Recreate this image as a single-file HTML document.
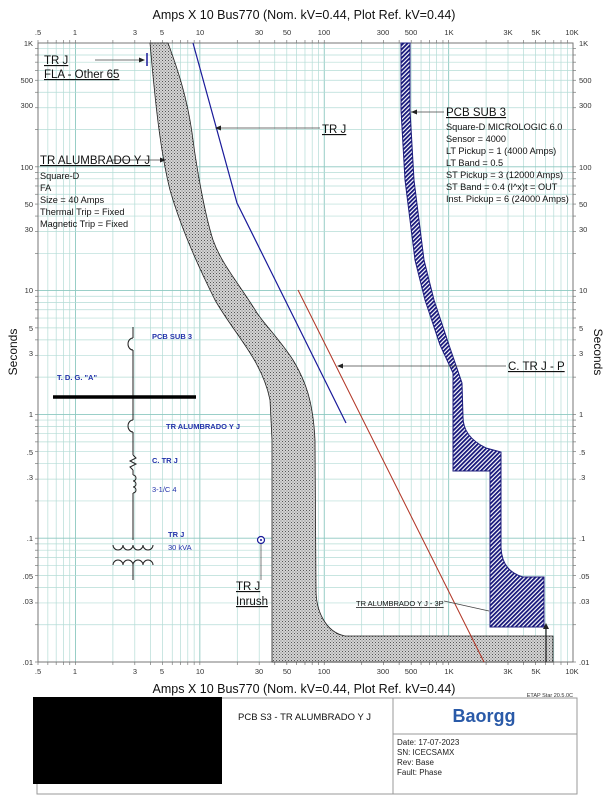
<!DOCTYPE html>
<html><head><meta charset="utf-8"><style>
html,body{margin:0;padding:0;background:#fff;}
svg{display:block;font-family:"Liberation Sans",Arial,sans-serif;}
</style></head><body>
<svg id="s" width="609" height="800" viewBox="0 0 609 800" xmlns="http://www.w3.org/2000/svg">
<defs>
<pattern id="dots" width="3" height="3" patternUnits="userSpaceOnUse">
<rect width="3" height="3" fill="#d4d4d4"/><rect x="0" y="0" width="1" height="1" fill="#555"/><rect x="1.5" y="1.5" width="1" height="1" fill="#777"/>
</pattern>
<pattern id="hatch" width="3" height="3" patternUnits="userSpaceOnUse" patternTransform="rotate(45)">
<rect width="3" height="3" fill="#fff"/><rect width="1.8" height="3" fill="#15157a"/>
</pattern>
</defs>
<rect width="609" height="800" fill="#fff"/>
<g id="grid"></g>
<rect x="38" y="43" width="535" height="619" fill="none" stroke="#777" stroke-width="1"/>

<!-- gray breaker band -->
<path d="M150,43 C155,100 160,150 170,190 C180,225 195,260 215,300 C235,335 262,360 270,400 L272,440 L272,662 L553,662 L553,636 L345,636 C325,632 316,610 316,590 L315,440 C313,400 305,380 293,360 C280,340 265,325 257,313 C240,285 222,265 213,240 C205,215 197,170 193,140 C188,100 178,70 168,43 Z" fill="url(#dots)" stroke="#222" stroke-width="0.8"/>

<!-- PCB SUB 3 hatched band -->
<path d="M401,43 L401,110 L405,180 L415,260 L425,300 L440,345 L453,373 L453,471 L490,471 L490,627 L544,627 L544,577 L523,577 C510,573 502,565 501,548 L501,452 L486,448 C470,440 463,430 463,417 L462,383 L449,345 L434,300 L424,260 L414,180 L410,110 L410,43 Z" fill="url(#hatch)" stroke="#1c1c7c" stroke-width="1"/>

<!-- TR J damage curve -->
<polyline points="193,43 237,203 300,330 346,423" fill="none" stroke="#1a1a9a" stroke-width="1.2"/>
<!-- C TR J - P -->
<line x1="298" y1="290" x2="484" y2="662" stroke="#b03020" stroke-width="1"/>
<line x1="546" y1="625" x2="546" y2="662" stroke="#222" stroke-width="1.2"/>
<polygon points="543,629 549,629 546,623" fill="#222"/>
<line x1="147" y1="53" x2="147" y2="66" stroke="#1a1a9a" stroke-width="1.5"/>
<circle cx="261" cy="540" r="3.5" fill="#fff" stroke="#1a1a9a" stroke-width="1.2"/>
<circle cx="261" cy="540" r="1" fill="#1a1a9a"/>
<line x1="261" y1="544" x2="261" y2="580" stroke="#444" stroke-width="0.7"/>

<g stroke="#444" stroke-width="0.8">
<line x1="95" y1="60" x2="143" y2="60"/>
<line x1="411" y1="112" x2="444" y2="112"/>
<line x1="216" y1="128" x2="320" y2="128"/>
<line x1="112" y1="160" x2="163" y2="160"/>
<line x1="338" y1="366" x2="506" y2="366"/>
<line x1="444" y1="601" x2="489" y2="611"/>
</g>
<g fill="#222">
<polygon points="145,60 139,57.5 139,62.5"/>
<polygon points="411,112 417,109.5 417,114.5"/>
<polygon points="215,128 221,125.5 221,130.5"/>
<polygon points="166,160 160,157.5 160,162.5"/>
<polygon points="337,366 343,363.5 343,368.5"/>
</g>
<g font-size="11.5" fill="#111" text-decoration="underline">
<text x="44" y="64">TR J</text>
<text x="44" y="78">FLA - Other 65</text>
<text x="446" y="116">PCB SUB 3</text>
<text x="322" y="133">TR J</text>
<text x="40" y="164">TR ALUMBRADO Y J</text>
<text x="508" y="370">C. TR J - P</text>
<text x="236" y="590">TR J</text>
<text x="236" y="605">Inrush</text>
</g>
<g font-size="9.2" fill="#111">
<text x="446" y="130">Square-D  MICROLOGIC 6.0</text>
<text x="446" y="142">Sensor = 4000</text>
<text x="446" y="154">LT Pickup = 1 (4000 Amps)</text>
<text x="446" y="166">LT Band = 0.5</text>
<text x="446" y="178">ST Pickup = 3 (12000 Amps)</text>
<text x="446" y="190">ST Band = 0.4  (I^x)t = OUT</text>
<text x="446" y="202">Inst. Pickup = 6 (24000 Amps)</text>
<text x="40" y="179">Square-D</text>
<text x="40" y="191">FA</text>
<text x="40" y="203">Size = 40 Amps</text>
<text x="40" y="215">Thermal Trip = Fixed</text>
<text x="40" y="227">Magnetic Trip = Fixed</text>
</g>
<text x="356" y="606" font-size="7.5" fill="#111" text-decoration="underline">TR ALUMBRADO Y J - 3P</text>

<g stroke="#222" fill="none" stroke-width="1">
<line x1="133" y1="327" x2="133" y2="338"/>
<path d="M133,338 A5,6 0 0 0 133,350"/>
<line x1="133" y1="350" x2="133" y2="420"/>
<path d="M133,420 A5,6 0 0 0 133,432"/>
<line x1="133" y1="432" x2="133" y2="455"/>
<polyline points="133,455 136,458 130,461 136,464 130,467 133,470"/>
<path d="M133,475 a3,3 0 1 1 0,6 a3,3 0 1 1 0,6 a3,3 0 1 1 0,6"/>
<line x1="133" y1="470" x2="133" y2="475"/>
<line x1="133" y1="493" x2="133" y2="540"/>
<path d="M113,545 a5,5 0 0 0 10,0 a5,5 0 0 0 10,0 a5,5 0 0 0 10,0 a5,5 0 0 0 10,0"/>
<path d="M113,565 a5,5 0 0 1 10,0 a5,5 0 0 1 10,0 a5,5 0 0 1 10,0 a5,5 0 0 1 10,0"/>
<line x1="133" y1="565" x2="133" y2="580"/>
</g>
<line x1="53" y1="397" x2="196" y2="397" stroke="#000" stroke-width="3.5"/>
<g font-size="7.5" font-weight="bold" fill="#2233aa">
<text x="57" y="380">T. D. G. "A"</text>
<text x="152" y="339">PCB SUB 3</text>
<text x="166" y="429">TR ALUMBRADO Y J</text>
<text x="152" y="463">C. TR J</text>
<text x="168" y="537">TR J</text>
</g>
<g font-size="7.5" fill="#2233aa">
<text x="152" y="492">3-1/C 4</text>
<text x="168" y="550">30 kVA</text>
</g>

<g font-size="7.5" fill="#333" text-anchor="middle">
<text x="38" y="35">.5</text><text x="75" y="35">1</text><text x="135" y="35">3</text><text x="162" y="35">5</text><text x="200" y="35">10</text><text x="259" y="35">30</text><text x="287" y="35">50</text><text x="324" y="35">100</text><text x="383" y="35">300</text><text x="411" y="35">500</text><text x="449" y="35">1K</text><text x="508" y="35">3K</text><text x="536" y="35">5K</text><text x="572" y="35">10K</text>
<text x="38" y="674">.5</text><text x="75" y="674">1</text><text x="135" y="674">3</text><text x="162" y="674">5</text><text x="200" y="674">10</text><text x="259" y="674">30</text><text x="287" y="674">50</text><text x="324" y="674">100</text><text x="383" y="674">300</text><text x="411" y="674">500</text><text x="449" y="674">1K</text><text x="508" y="674">3K</text><text x="536" y="674">5K</text><text x="572" y="674">10K</text>
</g>
<g font-size="7.5" fill="#333" text-anchor="end">
<text x="33" y="46">1K</text><text x="33" y="83">500</text><text x="33" y="108">300</text><text x="33" y="170">100</text><text x="33" y="207">50</text><text x="33" y="232">30</text><text x="33" y="293">10</text><text x="33" y="331">5</text><text x="33" y="356">3</text><text x="33" y="417">1</text><text x="33" y="455">.5</text><text x="33" y="480">.3</text><text x="33" y="541">.1</text><text x="33" y="579">.05</text><text x="33" y="604">.03</text><text x="33" y="665">.01</text>
</g>
<g font-size="7.5" fill="#333">
<text x="579" y="46">1K</text><text x="579" y="83">500</text><text x="579" y="108">300</text><text x="579" y="170">100</text><text x="579" y="207">50</text><text x="579" y="232">30</text><text x="579" y="293">10</text><text x="579" y="331">5</text><text x="579" y="356">3</text><text x="579" y="417">1</text><text x="579" y="455">.5</text><text x="579" y="480">.3</text><text x="579" y="541">.1</text><text x="579" y="579">.05</text><text x="579" y="604">.03</text><text x="579" y="665">.01</text>
</g>

<text x="304" y="19" font-size="12.5" fill="#111" text-anchor="middle">Amps  X  10   Bus770 (Nom. kV=0.44, Plot Ref. kV=0.44)</text>
<text x="304" y="693" font-size="12.5" fill="#111" text-anchor="middle">Amps  X  10   Bus770 (Nom. kV=0.44, Plot Ref. kV=0.44)</text>
<text x="17" y="352" font-size="12" fill="#111" text-anchor="middle" transform="rotate(-90 17 352)">Seconds</text>
<text x="594" y="352" font-size="12" fill="#111" text-anchor="middle" transform="rotate(90 594 352)">Seconds</text>

<text x="573" y="697" font-size="5.5" fill="#333" text-anchor="end">ETAP Star 20.5.0C</text>
<rect x="37" y="698" width="540" height="96" fill="none" stroke="#999" stroke-width="1"/>
<rect x="393" y="698" width="184" height="36" fill="none" stroke="#999" stroke-width="1"/>
<line x1="393" y1="698" x2="393" y2="794" stroke="#999"/>
<rect x="33" y="697" width="189" height="87" fill="#000"/>
<text x="238" y="720" font-size="9.5" fill="#111">PCB S3 - TR ALUMBRADO Y J</text>
<text x="484" y="722" font-size="18" font-weight="bold" fill="#2a5aa8" text-anchor="middle">Baorgg</text>
<g font-size="8" fill="#222">
<text x="397" y="745">Date:  17-07-2023</text>
<text x="397" y="755">SN:    ICECSAMX</text>
<text x="397" y="765">Rev:   Base</text>
<text x="397" y="775">Fault:  Phase</text>
</g>
</svg>
<script>
(function(){
var NS="http://www.w3.org/2000/svg";
function X(a){return 38+124.4*Math.log10(a/0.5);}
function Y(t){return 43+123.8*(3-Math.log10(t));}
var g=document.getElementById('grid');
function ln(x1,y1,x2,y2,c,w){var l=document.createElementNS(NS,'line');l.setAttribute('x1',x1);l.setAttribute('y1',y1);l.setAttribute('x2',x2);l.setAttribute('y2',y2);l.setAttribute('stroke',c);l.setAttribute('stroke-width',w);g.appendChild(l);}
[0.1,1,10,100,1000].forEach(function(d){for(var k=1;k<10;k++){var a=d*k;if(a<0.5||a>10000)continue;var x=X(a);ln(x,43,x,662,k==1?'#8cc8c0':'#b4dcd6',k==1?0.9:0.7);ln(x,40,x,43,'#777',0.7);ln(x,662,x,665,'#777',0.7);}});
ln(X(10000),43,X(10000),662,'#8cc8c0',0.9);
[0.01,0.1,1,10,100].forEach(function(d){for(var k=1;k<10;k++){var t=d*k;if(t>1000)continue;var y=Y(t);ln(38,y,573,y,k==1?'#8cc8c0':'#b4dcd6',k==1?0.9:0.7);ln(35,y,38,y,'#777',0.7);ln(573,y,576,y,'#777',0.7);}});
})();
</script>
</body></html>
